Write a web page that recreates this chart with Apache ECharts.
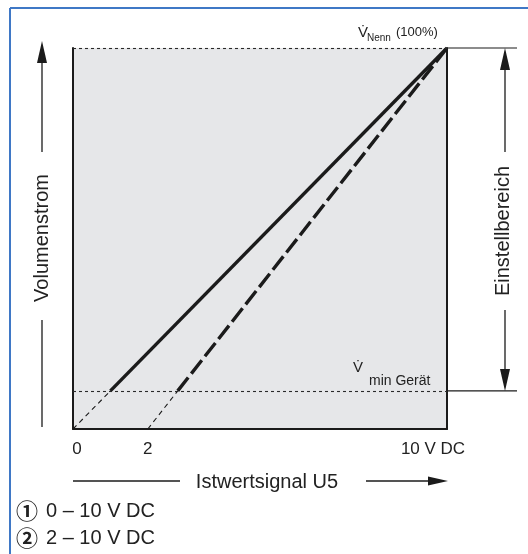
<!DOCTYPE html>
<html><head><meta charset="utf-8">
<script src="https://cdn.jsdelivr.net/npm/echarts@6/dist/echarts.min.js"></script>
<style>html,body{margin:0;padding:0;background:#fff;} #c{width:528px;height:554px;}</style>
</head><body><div id="c"></div><script>
const FONT = "'Liberation Sans', Arial, Helvetica, sans-serif";
// ---- data ----
const xTickValues = [0, 2, 10];
const xTickLabels = ['0', '2', '10 V DC'];
const xMin = 0, xMax = 10;
const yMin = 0, yMax = 100;
const vNennPct = 100;   // V̇Nenn (100%)
const vMinPct = 10;     // V̇min Gerät
const line1X = [1, 10];     const line1Y = [10, 100];
const line1ExtX = [0, 1];   const line1ExtY = [0, 10];
const line2X = [2.8, 10];   const line2Y = [10, 100];
const line2ExtX = [2, 2.8]; const line2ExtY = [0, 10];
const seriesNames = ['0 – 10 V DC', '2 – 10 V DC'];
const seriesMarks = ['①', '②'];
const xTitle = 'Istwertsignal U5';
const yTitle = 'Volumenstrom';
const rangeTitle = 'Einstellbereich';
const nennLabel = ['V\u0307', 'Nenn', '(100%)'];
const minLabel = ['V\u0307', 'min Gerät'];

const zip = (xs, ys) => xs.map((x, i) => [x, ys[i]]);
const INK = '#1b1b1b', TXT = '#222';

const option = {
  animation: false,
  backgroundColor: '#fff',
  grid: { left: 73, top: 48, width: 374, height: 381, show: true, backgroundColor: '#e6e7e9', borderWidth: 0 },
  xAxis: {
    type: 'value', min: xMin, max: xMax, interval: 1,
    axisLine: { show: true, onZero: false, lineStyle: { color: INK, width: 2 } },
    axisTick: { show: false }, splitLine: { show: false },
    axisLabel: {
      margin: 12, color: TXT, fontFamily: FONT, fontSize: 17,
      formatter: v => {
        const i = xTickValues.indexOf(v);
        if (i < 0) return '';
        if (i === 0) return '{a|' + xTickLabels[i] + '}';
        if (i === xTickValues.length - 1) return '{b|' + xTickLabels[i] + '}';
        return xTickLabels[i];
      },
      rich: {
        a: { fontSize: 17, fontFamily: FONT, color: TXT, padding: [0, 0, 0, 8] },
        b: { fontSize: 17, fontFamily: FONT, color: TXT, padding: [0, 28, 0, 0] }
      }
    }
  },
  yAxis: [{
    type: 'value', min: yMin, max: yMax,
    axisLine: { show: true, onZero: false, lineStyle: { color: INK, width: 2 } },
    axisTick: { show: false }, splitLine: { show: false }, axisLabel: { show: false }
  }, {
    type: 'value', min: yMin, max: yMax, position: 'right',
    axisLine: { show: true, onZero: false, lineStyle: { color: INK, width: 2 } },
    axisTick: { show: false }, splitLine: { show: false }, axisLabel: { show: false }
  }],
  series: [
    { name: seriesNames[0], type: 'line', data: zip(line1ExtX, line1ExtY), symbol: 'none', z: 3,
      lineStyle: { color: INK, width: 1.1, type: [5, 4] },
      markLine: { silent: true, symbol: 'none', label: { show: false },
        lineStyle: { color: '#2a2a2a', width: 1.1, type: [3, 3] },
        data: [{ yAxis: vNennPct }, { yAxis: vMinPct }] } },
    { name: seriesNames[1], type: 'line', data: zip(line2ExtX, line2ExtY), symbol: 'none', z: 3,
      lineStyle: { color: INK, width: 1.1, type: [5, 4] } },
    { name: seriesNames[0], type: 'line', data: zip(line1X, line1Y), symbol: 'none', z: 4,
      lineStyle: { color: INK, width: 3.4 } },
    { name: seriesNames[1], type: 'line', data: zip(line2X, line2Y), symbol: 'none', z: 4,
      lineStyle: { color: INK, width: 3.4, type: [17, 5] } }
  ]
};

const chart = echarts.init(document.getElementById('c'), null, { renderer: 'canvas' });
chart.setOption(option);

const p = (x, y) => chart.convertToPixel({ gridIndex: 0 }, [x, y]);
const [xL, yTop] = p(xMin, vNennPct);
const [xR, yBot] = p(xMax, yMin);
const yVmin = p(xMin, vMinPct)[1];

const AH_W = 5, AH_L = 22;
const line = (x1, y1, x2, y2, w, c) => ({ type: 'line', shape: { x1, y1, x2, y2 }, style: { stroke: c || INK, lineWidth: w || 1.3 }, z: 10 });
const headUp = (x, y) => ({ type: 'polygon', shape: { points: [[x, y], [x - AH_W, y + AH_L], [x + AH_W, y + AH_L]] }, style: { fill: INK }, z: 10 });
const headDown = (x, y) => ({ type: 'polygon', shape: { points: [[x, y], [x - AH_W, y - AH_L], [x + AH_W, y - AH_L]] }, style: { fill: INK }, z: 10 });
const headRight = (x, y) => ({ type: 'polygon', shape: { points: [[x, y], [x - AH_L + 2, y - 4.5], [x - AH_L + 2, y + 4.5]] }, style: { fill: INK }, z: 10 });
const txt = (text, x, y, size, extra) => Object.assign({ type: 'text', x, y, z: 11,
  style: Object.assign({ text, fill: TXT, font: size + 'px ' + FONT, textAlign: 'left', textVerticalAlign: 'middle' }, extra || {}) });

const g = [];
// blue frame
g.push(line(10, 8, 528, 8, 2, '#3f78c6'));
g.push(line(10, 8, 10, 554, 2, '#3f78c6'));
// extension lines on the right
g.push(line(xR, yTop, xR + 70, yTop, 1.2));
g.push(line(xR, yVmin, xR + 70, yVmin, 1.2));
// right range arrow
const ax = xR + 58;
g.push(line(ax, yTop + 10, ax, 152, 1.3));
g.push(line(ax, 310, ax, yVmin - 10, 1.3));
g.push(headUp(ax, yTop));
g.push(headDown(ax, yVmin));
g.push(Object.assign(txt(rangeTitle, ax - 2, 231, 20, { textAlign: 'center' }), { rotation: Math.PI / 2, originX: 0, originY: 0 }));
// left axis arrow
const lx = 42;
g.push(line(lx, 50, lx, 152, 1.3));
g.push(line(lx, 320, lx, yBot - 2, 1.3));
g.push(headUp(lx, 41));
g.push(Object.assign(txt(yTitle, lx, 238, 20, { textAlign: 'center' }), { rotation: Math.PI / 2, originX: 0, originY: 0 }));
// x-axis title arrow
const ty = 481;
g.push(line(xL, ty, 180, ty, 1.3));
g.push(line(366, ty, xR - 10, ty, 1.3));
g.push(headRight(xR + 1, ty));
g.push(txt(xTitle, 267, ty + 1, 20, { textAlign: 'center' }));
// V̇Nenn (100%)
g.push(txt(nennLabel[0], xR - 89, yTop - 15, 15));
g.push(txt(nennLabel[1], xR - 80, yTop - 10, 10));
g.push(txt(nennLabel[2], xR - 51, yTop - 16, 13));
// V̇min Gerät
g.push(txt(minLabel[0], xR - 94, yVmin - 23, 15));
g.push(txt(minLabel[1], xR - 78, yVmin - 10, 14));
// legend (series descriptions)
seriesNames.forEach((name, i) => {
  g.push({ type: 'text', x: 16, y: 511 + i * 27, z: 11,
    style: { text: '{c|' + seriesMarks[i] + '}{t|' + name + '}', textVerticalAlign: 'middle', textAlign: 'left',
      rich: {
        c: { fontFamily: "'Noto Sans CJK JP'", fontSize: 22, fill: TXT, fontWeight: 'bold' },
        t: { fontFamily: FONT, fontSize: 20, fill: TXT, padding: [0, 0, 0, 8] }
      } } });
});

chart.setOption({ graphic: { elements: g } });
</script></body></html>
